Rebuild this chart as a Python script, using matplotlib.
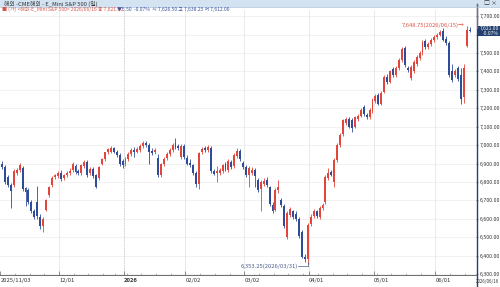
import matplotlib
matplotlib.use('Agg')
import matplotlib.pyplot as plt
from matplotlib.patches import Rectangle
import numpy as np
import pandas as pd

plt.rcParams['font.family'] = ['Noto Sans CJK KR', 'DejaVu Sans']

# daily E-mini S&P 500 candles, 2025/11/03 .. 2026/06/16
dates = pd.bdate_range('2025-11-03', '2026-06-16')
dates = dates.drop([pd.Timestamp('2025-12-25'), pd.Timestamp('2026-01-01')])

opens = [6900, 6880, 6825, 6785, 6785, 6850, 6865, 6875, 6765, 6755, 6690, 6640, 6690, 6610, 6560, 6650, 6730, 6785, 6825, 6830,
         6850, 6820, 6835, 6850, 6865, 6885, 6860, 6850, 6885, 6910, 6850, 6870, 6835, 6820, 6900, 6925, 6960, 6965, 6982, 6965, 6945, 6915,
         6895, 6925, 6950, 6975, 6965, 6975, 6995, 7010, 7000, 6970, 6960, 6930, 6835, 6895, 6930, 6950, 6975, 7010, 6995, 6935, 6995,
         6930, 6905, 6890, 6850, 6790, 6960, 6985, 6975, 6985, 6860, 6850, 6850, 6860, 6900, 6865, 6910, 6885, 6940, 6970, 6905,
         6880, 6840, 6850, 6865, 6810, 6760, 6790, 6810, 6770, 6675, 6650, 6755, 6700, 6670, 6500, 6620, 6640, 6625, 6600, 6530, 6395, 6380,
         6570, 6615, 6640, 6610, 6660, 6690, 6820, 6855, 6800, 6920, 7000, 7060, 7120, 7140, 7135, 7100, 7140, 7160, 7205, 7165, 7150, 7185,
         7240, 7270, 7225, 7290, 7370, 7345, 7415, 7380, 7420, 7460, 7525, 7420, 7365, 7400, 7440, 7470, 7500, 7565, 7530, 7550, 7570,
         7585, 7600, 7620, 7575, 7555, 7400, 7380, 7420, 7380, 7260, 7540, 7626.5]
highs = [6915, 6890, 6835, 6795, 6870, 6875, 6905, 6885, 6775, 6765, 6700, 6655, 6780, 6625, 6610, 6710, 6780, 6830, 6845, 6860,
         6865, 6845, 6860, 6875, 6910, 6895, 6870, 6895, 6920, 6920, 6880, 6880, 6845, 6885, 6930, 6965, 6985, 6995, 6990, 6975, 6955, 6925,
         6935, 6960, 6985, 6990, 6990, 7005, 7020, 7020, 7010, 6985, 6985, 6950, 6905, 6935, 6960, 6985, 7010, 7040, 7005, 7005, 7005,
         6945, 6925, 6900, 6860, 6965, 6990, 6995, 7000, 6995, 6870, 6885, 6875, 6900, 6910, 6925, 6920, 6955, 6985, 6980, 6915,
         6890, 6885, 6880, 6875, 6820, 6810, 6820, 6825, 6780, 6690, 6765, 6810, 6715, 6680, 6640, 6665, 6650, 6640, 6610, 6540, 6410, 6575,
         6625, 6655, 6650, 6670, 6685, 6835, 6875, 6865, 6930, 7010, 7065, 7140, 7150, 7150, 7145, 7160, 7170, 7200, 7215, 7175, 7200, 7255,
         7275, 7280, 7295, 7380, 7385, 7410, 7425, 7430, 7470, 7530, 7535, 7430, 7435, 7460, 7490, 7510, 7570, 7575, 7560, 7580, 7595,
         7610, 7625, 7635, 7590, 7565, 7440, 7415, 7430, 7420, 7440, 7648.75, 7638.25]
lows = [6870, 6790, 6775, 6660, 6775, 6840, 6855, 6750, 6670, 6680, 6630, 6600, 6600, 6545, 6530, 6640, 6720, 6775, 6815, 6820,
        6805, 6810, 6825, 6840, 6855, 6845, 6835, 6840, 6875, 6825, 6840, 6820, 6765, 6810, 6890, 6915, 6950, 6955, 6955, 6935, 6885, 6875,
        6885, 6915, 6940, 6935, 6955, 6965, 6985, 6990, 6900, 6945, 6950, 6825, 6825, 6885, 6920, 6940, 6965, 6980, 6975, 6925, 6925,
        6890, 6880, 6835, 6770, 6760, 6950, 6965, 6965, 6850, 6835, 6800, 6840, 6850, 6860, 6855, 6870, 6875, 6930, 6915, 6870,
        6825, 6770, 6840, 6775, 6745, 6640, 6780, 6775, 6670, 6630, 6640, 6740, 6665, 6550, 6490, 6610, 6600, 6590, 6495, 6385, 6365, 6353.25,
        6560, 6605, 6605, 6600, 6650, 6680, 6810, 6830, 6770, 6910, 6990, 7050, 7110, 7090, 7070, 7090, 7130, 7150, 7160, 7140, 7140, 7175,
        7230, 7215, 7215, 7280, 7330, 7335, 7370, 7370, 7410, 7450, 7425, 7395, 7355, 7390, 7430, 7460, 7490, 7520, 7520, 7540, 7560,
        7575, 7590, 7565, 7545, 7370, 7345, 7370, 7350, 7225, 7230, 7530, 7612]
closes = [6880, 6800, 6785, 6750, 6860, 6865, 6890, 6760, 6745, 6690, 6640, 6610, 6615, 6560, 6600, 6700, 6770, 6820, 6835, 6848,
          6815, 6835, 6850, 6862, 6900, 6855, 6848, 6890, 6910, 6835, 6870, 6830, 6775, 6880, 6925, 6960, 6980, 6985, 6965, 6945, 6900, 6890,
          6925, 6950, 6975, 6965, 6980, 6995, 7010, 7000, 6965, 6955, 6975, 6835, 6895, 6925, 6950, 6975, 7000, 6990, 6985, 6995, 6935,
          6900, 6890, 6850, 6790, 6955, 6980, 6975, 6990, 6860, 6845, 6858, 6865, 6890, 6870, 6915, 6880, 6945, 6970, 6925, 6880,
          6835, 6875, 6865, 6830, 6755, 6800, 6805, 6785, 6680, 6640, 6755, 6775, 6675, 6560, 6630, 6655, 6610, 6600, 6505, 6395, 6380, 6565,
          6610, 6645, 6615, 6660, 6675, 6825, 6850, 6840, 6920, 7000, 7055, 7135, 7140, 7100, 7095, 7150, 7160, 7190, 7170, 7150, 7190, 7245,
          7265, 7225, 7285, 7370, 7345, 7400, 7380, 7420, 7460, 7520, 7435, 7405, 7425, 7450, 7480, 7500, 7560, 7530, 7550, 7570, 7585,
          7600, 7615, 7570, 7555, 7380, 7355, 7400, 7360, 7250, 7420, 7626.5, 7621]

month_labels = ['2025/11/03', '12/01', '2026', '02/02', '03/02', '04/01', '05/01', '06/01']
y_ticks = [6300, 6400, 6500, 6600, 6700, 6800, 6900, 7000, 7100, 7200, 7300, 7400, 7500, 7600, 7700]

UP = '#E2453B'
DOWN = '#2E4C9A'
NAVY = '#24406E'

W, H = 500, 287
fig = plt.figure(figsize=(W / 100, H / 100), dpi=100)
fig.patch.set_facecolor('white')

def px(x, y):
    return x / W, 1 - y / H

# plot area 0..476 px wide, 10..275 px high
ax = fig.add_axes([0, 12 / H, 476 / W, 265 / H])
ax.set_facecolor('white')

o = np.array(opens, float)
c = np.array(closes, float)
hi = np.array(highs, float)
lo = np.array(lows, float)
xs = np.arange(len(c))
cols = [UP if cc >= oo else DOWN for oo, cc in zip(o, c)]

# grid
for t in y_ticks:
    ax.axhline(t, color='#EDEDED', lw=0.5, zorder=0)
month_pos = [0]
for i in range(1, len(dates)):
    if dates[i].month != dates[i - 1].month:
        month_pos.append(i)
for k, p in enumerate(month_pos[1:], start=1):
    if month_labels[k] == '2026':
        ax.axvline(p - 0.6, color='#BBBBBB', lw=0.6, ls=(0, (1, 1)), zorder=0)
    else:
        ax.axvline(p - 0.6, color='#E6E6E6', lw=0.6, zorder=0)

ax.vlines(xs, lo, hi, colors=cols, lw=0.6, zorder=2)
ax.bar(xs, np.maximum(np.abs(c - o), 3), bottom=np.minimum(o, c), width=0.66,
       color=cols, lw=0, zorder=3)

ax.set_xlim(-0.68, 161.2)
ax.set_ylim(6295, 7733)

# the 7,600 label sits under the price box, as in the original
ax.yaxis.tick_right()
ax.set_yticks(y_ticks)
ax.set_yticklabels(['' if t == 7600 else f'{t:,.2f}' for t in y_ticks], fontsize=3.8)
ax.tick_params(axis='y', length=1.5, width=0.5, pad=1.2, colors='#555555', labelcolor='#333333')

ax.set_xticks([p - 0.6 for p in month_pos])
ax.set_xticklabels(month_labels, fontsize=4.2, color='#333333', ha='left')
for lab in ax.get_xticklabels():
    if lab.get_text() == '2026':
        lab.set_fontweight('bold')
mondays = [i for i, d in enumerate(dates) if d.dayofweek == 0]
ax.set_xticks([m - 0.6 for m in mondays], minor=True)
ax.tick_params(axis='x', which='major', length=3, width=0.5, pad=2, direction='in', colors='#666666', labelcolor='#333333')
ax.tick_params(axis='x', which='minor', length=1.5, width=0.4, direction='in', colors='#888888')

for s in ['top', 'left', 'right']:
    ax.spines[s].set_visible(False)
ax.spines['bottom'].set_color('#555555')
ax.spines['bottom'].set_linewidth(0.6)

# right price-axis line running the full height
fig.add_artist(plt.Line2D([476.5 / W, 476.5 / W], [0, 1 - 4 / H], color=NAVY, lw=1.0))
fig.add_artist(plt.Line2D([476.5 / W, 476.5 / W], [1 - 4 / H, 1 - 28 / H], color='#E0463C', lw=0.8))

# high / low annotations
ax.annotate('7,648.75(2026/06/15)\u2192', xy=(158, 7648.75), xytext=(-1.5, 0), textcoords='offset pixels',
            ha='right', va='center', fontsize=4.2, color='#D9574C', zorder=5)
ax.annotate('6,353.25(2026/03/31)', xy=(104, 6353.25), xytext=(-10, -2), textcoords='offset pixels',
            ha='right', va='center', fontsize=4.2, color='#4A5F8C', zorder=5)
ax.plot([104 - 3.3, 104], [6343, 6343], color='#4A5F8C', lw=0.5, zorder=5, clip_on=False)
ax.plot([104, 104], [6343, 6365], color='#4A5F8C', lw=0.5, zorder=5, clip_on=False)

# current price box
fig.add_artist(Rectangle(px(477, 36), 23 / W, 10 / H, color=NAVY, lw=0))
fig.text(*px(499, 28.5), '7,621.00', fontsize=3.5, color='white', ha='right', va='center')
fig.text(*px(499, 33.5), '-0.07%', fontsize=3.5, color='white', ha='right', va='center')
fig.text(*px(499.5, 281), '2026/06/16', fontsize=3.2, color='#333333', ha='right', va='center')

# title bar
fig.add_artist(Rectangle(px(0, 7), 1, 7 / H, color='#D4E3F1', lw=0))
fig.add_artist(plt.Line2D([0, 1], [1 - 7 / H, 1 - 7 / H], color='#A9C1DA', lw=0.5))
fig.text(*px(4, 3.5), '해외 -CME해외 - E_Mini S&P 500 (일)', fontsize=4.2, color='#333333', va='center')
fig.text(*px(497, 3.5), '□ ×', fontsize=4.2, color='#333333', va='center', ha='right')

# legend line
fig.text(*px(2, 9.5), '■ (가) <해외-E_Mini S&P 500> 2026/06/16 종 7,621.00', fontsize=3.6, color='#D9574C', va='center')
fig.text(*px(117, 9.5), '▼5.50  -0.07%  시 7,626.50 고 7,638.25 저 7,612.00', fontsize=3.6, color='#3A55A0', va='center')

fig.savefig('out.png', dpi=100)
